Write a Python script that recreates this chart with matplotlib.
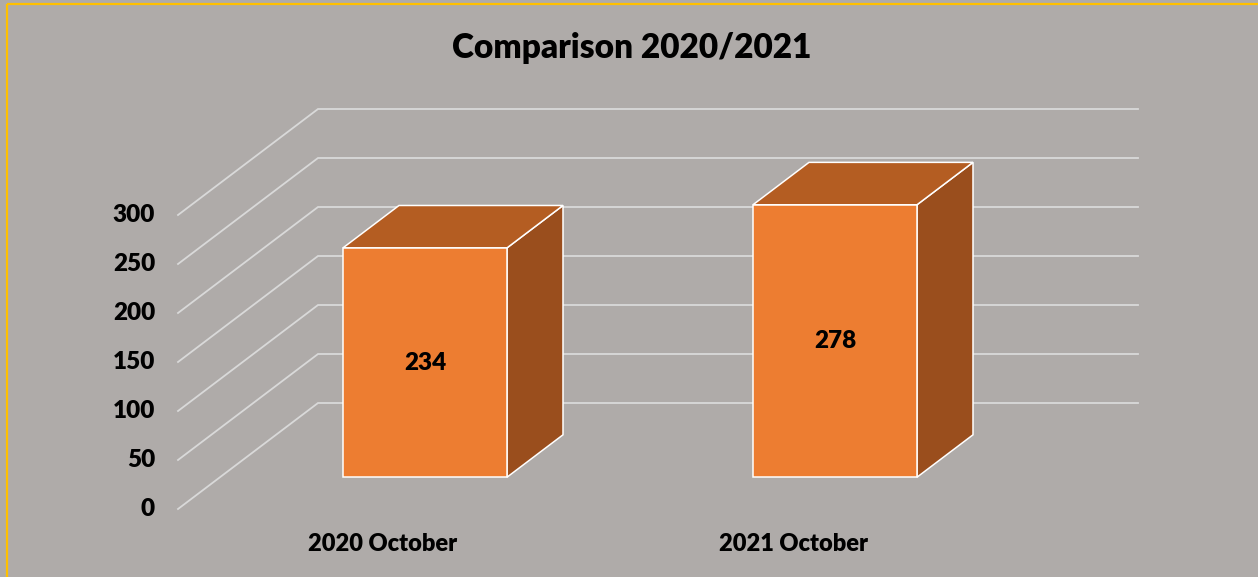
import matplotlib
matplotlib.use("Agg")
import matplotlib.pyplot as plt
from matplotlib.patches import Polygon
from matplotlib.lines import Line2D

# chart data
categories = ["2020 October", "2021 October"]
values = [234, 278]
ticks = [0, 50, 100, 150, 200, 250, 300]
title = "Comparison 2020/2021"

# colours
bg = "#AFABA9"
front_col = "#ED7D31"
top_col = "#B45D22"
side_col = "#9A4E1D"
grid_col = "#D9D9D9"
border_col = "#FFC000"

plt.rcParams['font.family'] = ['Lato', 'DejaVu Sans']
WEIGHT = "heavy"

W, H = 1258, 577
fig = plt.figure(figsize=(W / 100, H / 100), dpi=100)
fig.patch.set_facecolor(bg)

# pseudo-3d projection: depth z in [0,1] shifts the point right and up
DX = 140 / 410      # category units per full depth
DY = 106 / 0.98     # value units per full depth
YMAX = (509 - 107) / 0.98
XMAX = (1138 - 178) / 410


def proj(x, y, z):
    return (x + z * DX, y + z * DY)


ax = fig.add_axes([178 / W, (H - 509) / H, (1138 - 178) / W, (509 - 107) / H])
ax.set_xlim(0, XMAX)
ax.set_ylim(0, YMAX)
ax.axis("off")

n = len(categories)

# side wall diagonals + back wall gridlines
for t in ticks:
    x0, y0 = proj(0, t, 0)
    x1, y1 = proj(0, t, 1)
    x2, y2 = proj(n, t, 1)
    ax.plot([x0, x1, x2], [y0, y1, y2], color=grid_col, lw=1.3,
            solid_joinstyle="miter", zorder=1, clip_on=False)
    ax.annotate(str(t), xy=(0, t), xytext=(-23, 0), textcoords="offset pixels",
                ha="right", va="center", fontsize=17.5, fontweight=WEIGHT,
                color="black", annotation_clip=False)

# bars
half = 0.2
z0, z1 = 0.3, 0.7
for i, (cat, v) in enumerate(zip(categories, values)):
    xl, xr = i + 0.5 - half, i + 0.5 + half
    front = [proj(xl, 0, z0), proj(xr, 0, z0), proj(xr, v, z0), proj(xl, v, z0)]
    top = [proj(xl, v, z0), proj(xr, v, z0), proj(xr, v, z1), proj(xl, v, z1)]
    side = [proj(xr, 0, z0), proj(xr, 0, z1), proj(xr, v, z1), proj(xr, v, z0)]
    for pts, col in ((side, side_col), (top, top_col), (front, front_col)):
        ax.add_patch(Polygon(pts, closed=True, facecolor=col, edgecolor="white",
                             lw=1.1, joinstyle="miter", zorder=3, clip_on=False))
    cx, cy = proj(i + 0.5, v / 2, z0)
    ax.text(cx, cy, str(v), ha="center", va="center", fontsize=17.5,
            fontweight=WEIGHT, color="black", zorder=4)
    ax.annotate(cat, xy=(i + 0.5, 0), xytext=(0, -35), textcoords="offset pixels",
                ha="center", va="center", fontsize=17, fontweight=WEIGHT,
                color="black", annotation_clip=False)

fig.text(632 / W, 1 - 48 / H, title, ha="center", va="center",
         fontsize=24, fontweight=WEIGHT, color="black")

# gold border on the top and left edges
fig.add_artist(Line2D([7 / W, 7 / W], [0, 1 - 4 / H], transform=fig.transFigure,
                      color=border_col, lw=1.6, solid_capstyle="butt"))
fig.add_artist(Line2D([7 / W, 1], [1 - 4 / H, 1 - 4 / H], transform=fig.transFigure,
                      color=border_col, lw=1.6, solid_capstyle="butt"))

fig.savefig("out.png", dpi=100, facecolor=bg)
